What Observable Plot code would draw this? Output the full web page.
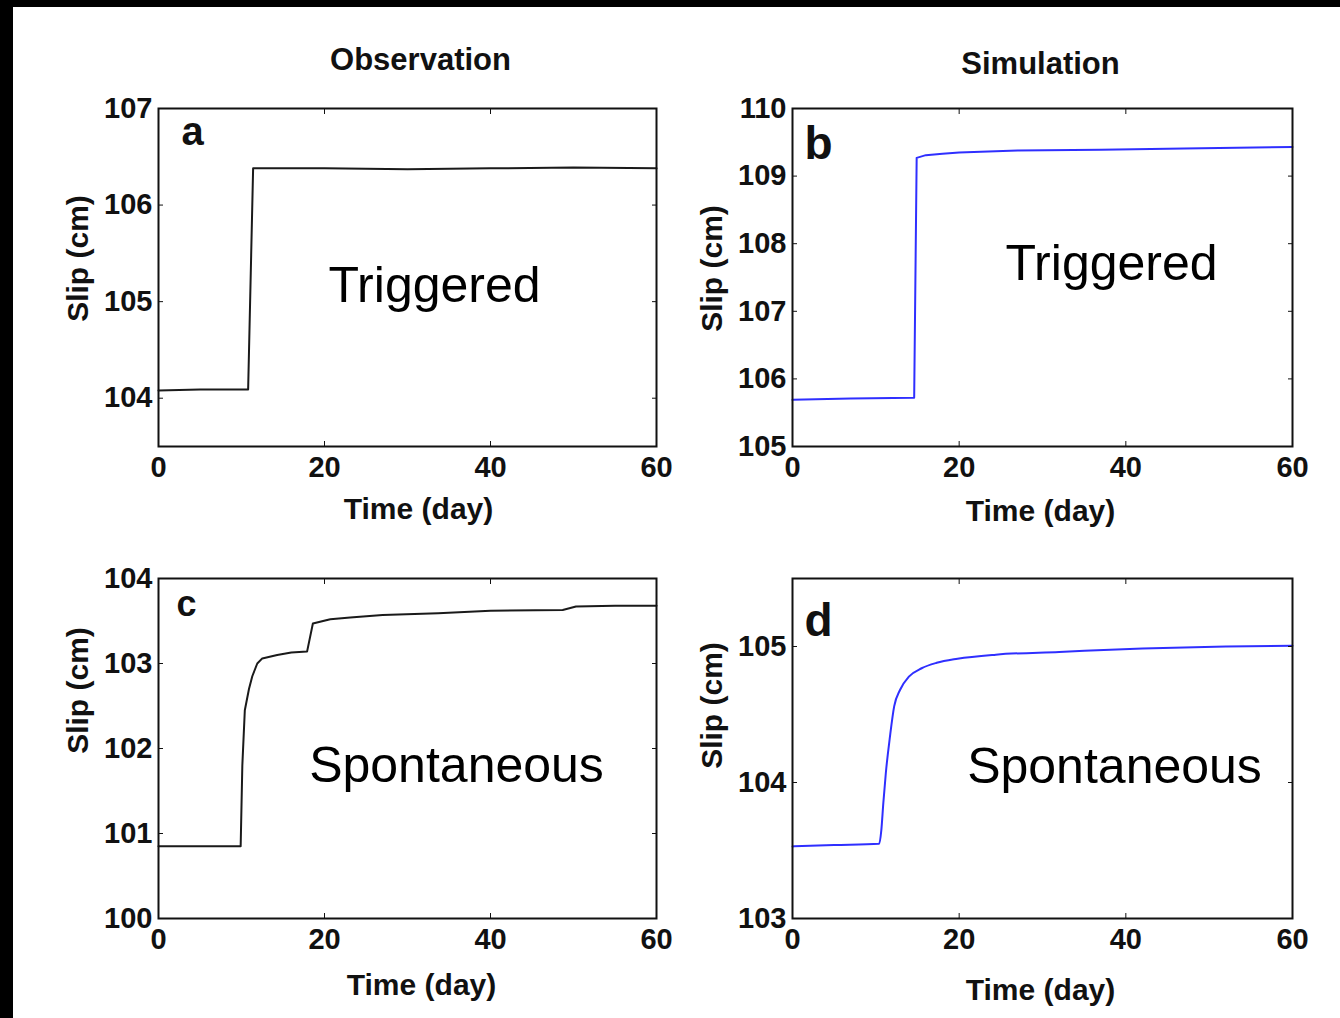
<!DOCTYPE html>
<html><head><meta charset="utf-8">
<script src="https://cdn.jsdelivr.net/npm/d3@7"></script>
<script src="https://cdn.jsdelivr.net/npm/@observablehq/plot@0.6"></script>
<style>
html,body{margin:0;padding:0;background:#fff;}
#page{position:relative;width:1340px;height:1018px;overflow:hidden;background:#fff;}
#topbar{position:absolute;left:0;top:0;width:1340px;height:7px;background:#000;}
#leftbar{position:absolute;left:0;top:0;width:13px;height:1018px;background:#000;}
.panel{position:absolute;}
</style></head>
<body><div id="page"><div id="topbar"></div><div id="leftbar"></div></div>
<script>
// ---- data ----
const xTicks = [0, 20, 40, 60];
const columnTitles = ["Observation", "Simulation"];

// (a) Observation, triggered
const obsTrigT    = [0, 5, 10.8, 11.4, 20, 30, 40, 50, 60];
const obsTrigSlip = [104.08, 104.09, 104.09, 106.38, 106.38, 106.37, 106.38, 106.39, 106.38];
const obsTrigTicks = [104, 105, 106, 107];

// (b) Simulation, triggered
const simTrigT    = [0, 7, 14.6, 14.9, 16, 18, 20, 27, 37, 47, 60];
const simTrigSlip = [105.69, 105.71, 105.72, 109.27, 109.31, 109.33, 109.35, 109.38, 109.39, 109.41, 109.43];
const simTrigTicks = [105, 106, 107, 108, 109, 110];

// (c) Observation, spontaneous
const obsSponT    = [0, 5, 9.9, 10.1, 10.4, 10.9, 11.3, 11.9, 12.5, 14.3, 16, 17.9, 18.6, 20.7, 23.1, 27, 33.7, 40, 48.7, 50.3, 55, 60];
const obsSponSlip = [100.85, 100.85, 100.85, 101.8, 102.45, 102.7, 102.85, 103.0, 103.06, 103.1, 103.13, 103.14, 103.47, 103.52, 103.54, 103.57, 103.59, 103.62, 103.63, 103.67, 103.68, 103.68];
const obsSponTicks = [100, 101, 102, 103, 104];

// (d) Simulation, spontaneous
const simSponT    = [0, 5, 10.4, 10.66, 10.9, 11.2, 11.7, 12.2, 12.9, 14.0, 15.5, 17.3, 19.8, 24.4, 32, 42, 52, 60];
const simSponSlip = [103.53, 103.54, 103.55, 103.65, 103.85, 104.07, 104.34, 104.56, 104.68, 104.78, 104.84, 104.88, 104.91, 104.94, 104.96, 104.985, 105.0, 105.005];
const simSponTicks = [103, 104, 105];

// ---- drawing ----
const FONT = "'Liberation Sans', Arial, Helvetica, sans-serif";
const ML = 100, MR = 30, MT = 70, MB = 90;
const page = document.getElementById("page");
const intFmt = d => String(Math.round(d));

function panel(cfg) {
  const data = cfg.t.map((t, i) => ({t, s: cfg.s[i]}));
  const tickOpts = {tickSize: -5, tickFormat: () => "", label: null, strokeWidth: 1};
  const marks = [
    Plot.line(data, {x: "t", y: "s", stroke: cfg.color, strokeWidth: 2, curve: cfg.curve || "linear"}),
    Plot.axisX({ticks: xTicks, anchor: "bottom", tickSize: 0, tickPadding: 10, label: null, tickFormat: intFmt}),
    Plot.axisY({ticks: cfg.yTicks, anchor: "left", tickSize: 0, tickPadding: 6, label: null, tickFormat: intFmt}),
    Plot.axisX({ticks: xTicks, anchor: "bottom", ...tickOpts}),
    Plot.axisX({ticks: xTicks, anchor: "top", ...tickOpts}),
    Plot.axisY({ticks: cfg.yTicks, anchor: "left", ...tickOpts}),
    Plot.axisY({ticks: cfg.yTicks, anchor: "right", ...tickOpts}),
    Plot.frame({stroke: "#111", strokeWidth: 2}),
    Plot.text([cfg.letter], {text: d => d, frameAnchor: "top-left", dx: cfg.letterDx, dy: cfg.letterDy,
      textAnchor: "start", lineAnchor: "bottom", fontSize: cfg.letterSize, fontWeight: "bold", fill: "#111"}),
    Plot.text([cfg.note], {text: d => d, frameAnchor: "top-left", dx: cfg.noteDx, dy: cfg.noteDy,
      textAnchor: "middle", lineAnchor: "bottom", fontSize: 50, fontWeight: "normal", fill: "#000"}),
    Plot.text(["Slip (cm)"], {text: d => d, frameAnchor: "left", dx: -80, dy: cfg.yLabDy, rotate: -90,
      textAnchor: "middle", lineAnchor: "middle", fontSize: 30, fontWeight: "bold", fill: "#111"}),
    Plot.text(["Time (day)"], {text: d => d, frameAnchor: "bottom", dx: cfg.xLabDx, dy: cfg.xLabDy,
      textAnchor: "middle", lineAnchor: "middle", fontSize: 30, fontWeight: "bold", fill: "#111"})
  ];
  if (cfg.title) {
    marks.push(Plot.text([cfg.title], {text: d => d, frameAnchor: "top", dx: cfg.titleDx, dy: cfg.titleDy,
      textAnchor: "middle", lineAnchor: "middle", fontSize: 31, fontWeight: "bold", fill: "#111"}));
  }
  const chart = Plot.plot({
    width: cfg.fw + ML + MR, height: cfg.fh + MT + MB,
    marginLeft: ML, marginRight: MR, marginTop: MT, marginBottom: MB,
    style: {fontFamily: FONT, fontSize: "29px", fontWeight: "bold", background: "transparent", overflow: "visible", color: "#111"},
    x: {domain: [0, 60], label: null},
    y: {domain: cfg.yDomain, label: null},
    marks
  });
  chart.classList.add("panel");
  chart.style.left = (cfg.fx - ML) + "px";
  chart.style.top = (cfg.fy - MT) + "px";
  page.appendChild(chart);
}

panel({t: obsTrigT, s: obsTrigSlip, yDomain: [103.5, 107], yTicks: obsTrigTicks, color: "#1a1a1a",
  fx: 158, fy: 108, fw: 498, fh: 338, letter: "a", letterDx: 23, letterDy: 36, letterSize: 40,
  note: "Triggered", noteDx: 276, noteDy: 193, yLabDy: -19, xLabDx: 11, xLabDy: 63,
  title: columnTitles[0], titleDx: 13, titleDy: -48});

panel({t: simTrigT, s: simTrigSlip, yDomain: [105, 110], yTicks: simTrigTicks, color: "#2f2fff",
  fx: 792, fy: 108, fw: 500, fh: 338, letter: "b", letterDx: 12, letterDy: 50, letterSize: 46,
  note: "Triggered", noteDx: 319, noteDy: 171, yLabDy: -9, xLabDx: -2, xLabDy: 65,
  title: columnTitles[1], titleDx: -2, titleDy: -44});

panel({t: obsSponT, s: obsSponSlip, yDomain: [100, 104], yTicks: obsSponTicks, color: "#1a1a1a",
  fx: 158, fy: 578, fw: 498, fh: 340, letter: "c", letterDx: 18, letterDy: 37, letterSize: 36,
  note: "Spontaneous", noteDx: 298, noteDy: 203, yLabDy: -58, xLabDx: 14, xLabDy: 67});

panel({t: simSponT, s: simSponSlip, yDomain: [103, 105.5], yTicks: simSponTicks, color: "#2f2fff", curve: "monotone-x",
  fx: 792, fy: 578, fw: 500, fh: 340, letter: "d", letterDx: 12, letterDy: 57, letterSize: 46,
  note: "Spontaneous", noteDx: 322, noteDy: 204, yLabDy: -43, xLabDx: -2, xLabDy: 72});
</script>
</body></html>
